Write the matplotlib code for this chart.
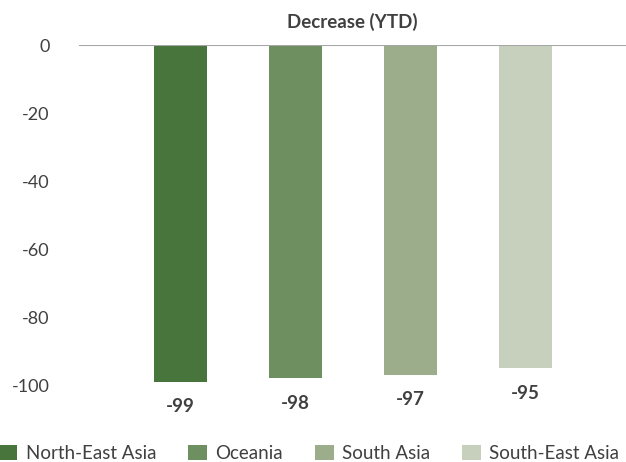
import matplotlib
matplotlib.use("Agg")
import matplotlib.pyplot as plt
from matplotlib.patches import Patch

categories = ["North-East Asia", "Oceania", "South Asia", "South-East Asia"]
values = [-99, -98, -97, -95]
colors = ["#47753b", "#6e8f5f", "#9bad8a", "#c6d0bd"]
yticks = [0, -20, -40, -60, -80, -100]
title = "Decrease (YTD)"

plt.rcParams["font.family"] = ["Lato", "DejaVu Sans"]
text_color = "#404040"

W, H = 626, 462
fig = plt.figure(figsize=(W / 100, H / 100), dpi=100)
ax = fig.add_axes([79 / W, 1 - 385 / H, (626 - 79) / W, (385 - 45) / H])

x = list(range(len(categories)))
bars = ax.bar(x, values, width=0.461, color=colors, zorder=2)

for b, v in zip(bars, values):
    ax.annotate(f"{v}", xy=(b.get_x() + b.get_width() / 2, v), xytext=(0, -12),
                textcoords="offset points", ha="center", va="top",
                fontsize=13.5, fontweight="bold", color=text_color,
                annotation_clip=False)

ax.set_xlim(-0.8826, 3.874)
ax.set_ylim(-100, 0)
ax.set_yticks(yticks)
ax.set_yticklabels([str(t) for t in yticks])
ax.tick_params(axis="y", length=0, pad=21, labelsize=13, labelcolor=text_color)
ax.set_xticks([])
for s in ["left", "right", "bottom", "top"]:
    ax.spines[s].set_visible(False)
ax.axhline(0, color="#a6a6a6", linewidth=1.5, zorder=3)

ax.set_title(title, fontsize=13.5, fontweight="bold", color=text_color, pad=12)

handles = [Patch(facecolor=c, edgecolor="none") for c in colors]
leg = fig.legend(handles, categories, loc="center left", bbox_to_anchor=(-0.002, 1 - 453.5 / H),
                 ncol=4, frameon=False, fontsize=13.5, handlelength=1.0, handleheight=0.9,
                 handletextpad=0.45, columnspacing=1.7, labelcolor=text_color,
                 borderaxespad=0, borderpad=0)

fig.savefig("out.png", dpi=100)
